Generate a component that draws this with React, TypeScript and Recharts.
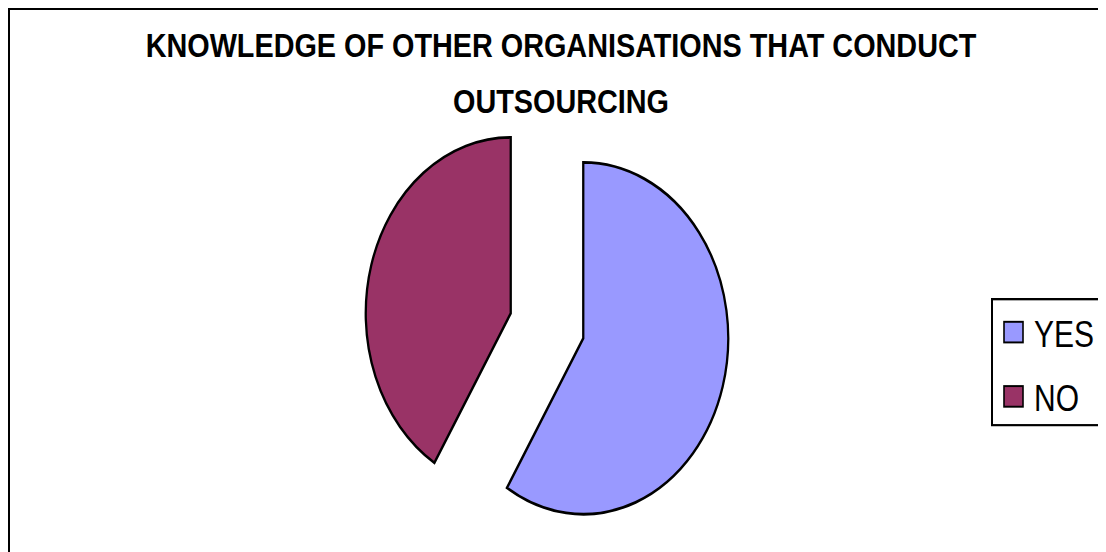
import { PieChart, Pie, Cell, Legend } from "recharts";

const categories = ["YES", "NO"];
const responses = [20, 14];
const sliceColors = ["#9999FF", "#993366"];
const titleLines = ["KNOWLEDGE OF OTHER ORGANISATIONS THAT CONDUCT", "OUTSOURCING"];

const data = categories.map((name, i) => ({ name, value: responses[i] }));
const total = responses.reduce((a, b) => a + b, 0);

// the source picture is stretched vertically, so the chart is drawn flat and scaled
const STRETCH = 1.213;
const CX = 539;
const CY = 262;
const RADIUS = 145;
const EXPLODE = 37.7;
const FONT = "'Liberation Sans', Arial, sans-serif";

function explodedCenter(index: number) {
  const before = responses.slice(0, index).reduce((a, b) => a + b, 0);
  const mid = 90 - (360 * (before + responses[index] / 2)) / total;
  const rad = (mid * Math.PI) / 180;
  return { x: CX + EXPLODE * Math.cos(rad), y: CY - EXPLODE * Math.sin(rad) };
}

function LegendBox() {
  return (
    <svg width={110} height={106} style={{ display: "block" }}>
      <rect x={1} y={1} width={108} height={104} fill="#fff" stroke="#000" strokeWidth={2} />
      {categories.map((name, i) => (
        <g key={name}>
          <rect
            x={13}
            y={19.7 + i * 53}
            width={19}
            height={17}
            fill={sliceColors[i]}
            stroke="#000"
            strokeWidth={1.6}
          />
          <text x={43} y={40.4 + i * 53} fontSize={30} fontFamily={FONT} fill="#000">
            {name}
          </text>
        </g>
      ))}
    </svg>
  );
}

export default function App() {
  return (
    <div
      style={{
        position: "relative",
        width: 1098,
        height: 544,
        overflow: "hidden",
        background: "#fff",
      }}
    >
      <div
        style={{
          position: "absolute",
          left: 0,
          top: -1,
          width: 1200,
          height: 700,
          borderTop: "3px solid #000",
          borderLeft: "2px solid #000",
          boxSizing: "border-box",
        }}
      />
      <svg
        width={1098}
        height={130}
        style={{ position: "absolute", left: 0, top: 0 }}
      >
        {titleLines.map((line, i) => (
          <text
            key={line}
            transform={`translate(553,${48.7 + i * 56.6}) scale(1,1.13)`}
            textAnchor="middle"
            fontWeight="bold"
            fontSize={28.8}
            fontFamily={FONT}
            fill="#000"
          >
            {line}
          </text>
        ))}
      </svg>
      <div
        style={{
          position: "absolute",
          left: 0,
          top: 0,
          transform: `scaleY(${STRETCH})`,
          transformOrigin: "0 0",
        }}
      >
        <PieChart width={1098} height={449} margin={{ top: 0, right: 0, bottom: 0, left: 0 }}>
          {categories.map((name, k) => {
            const c = explodedCenter(k);
            return (
              <Pie
                key={name}
                data={data}
                dataKey="value"
                nameKey="name"
                cx={c.x}
                cy={c.y}
                outerRadius={RADIUS}
                startAngle={90}
                endAngle={-270}
                legendType={k === 0 ? "square" : "none"}
                isAnimationActive={false}
              >
                {data.map((d, i) => (
                  <Cell
                    key={d.name}
                    fill={i === k ? sliceColors[i] : "none"}
                    stroke={i === k ? "#000" : "none"}
                    strokeWidth={2.3}
                  />
                ))}
              </Pie>
            );
          })}
          <Legend
            layout="vertical"
            align="right"
            verticalAlign="middle"
            content={<LegendBox />}
            wrapperStyle={{ left: 983, top: 239, width: 110, height: 106 }}
          />
        </PieChart>
      </div>
    </div>
  );
}
